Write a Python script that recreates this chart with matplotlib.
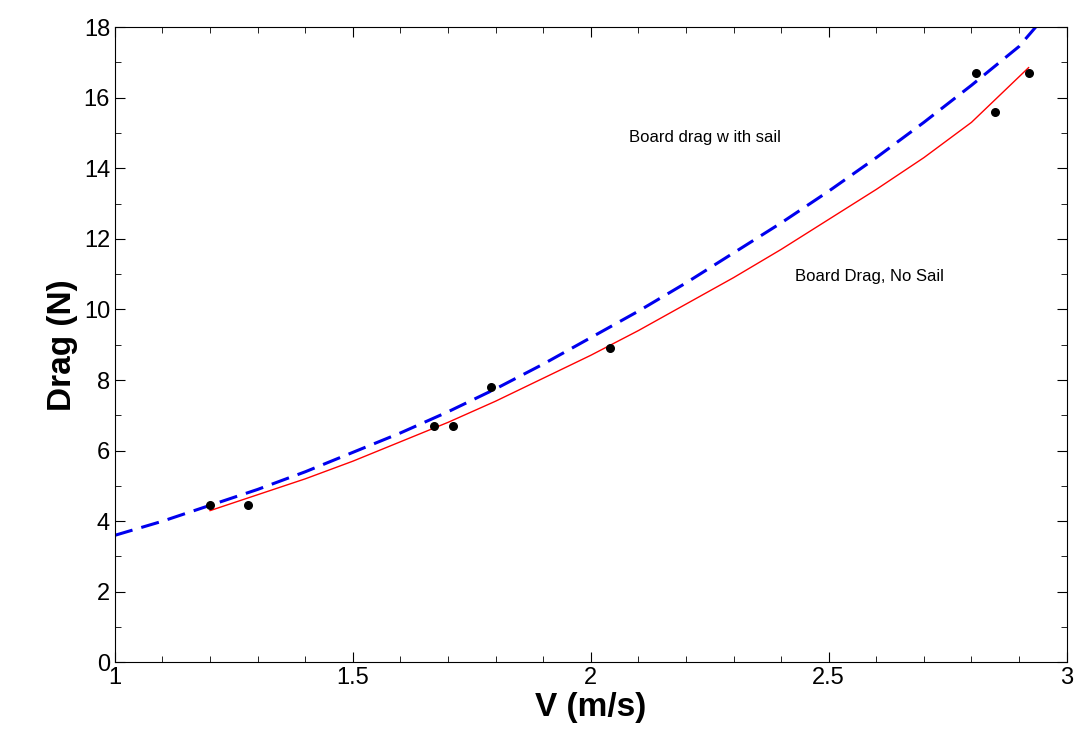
import numpy as np
import matplotlib.pyplot as plt
from matplotlib.ticker import MultipleLocator

plt.rcParams['font.family'] = ['Liberation Sans', 'DejaVu Sans']

# measured points
v_pts = [1.20, 1.28, 1.67, 1.71, 1.79, 2.04, 2.81, 2.85, 2.92]
d_pts = [4.45, 4.45, 6.7, 6.7, 7.8, 8.9, 16.7, 15.6, 16.7]

# fit curves
v_sail = [1.0, 1.1, 1.2, 1.3, 1.4, 1.5, 1.6, 1.7, 1.8, 1.9, 2.0, 2.1,
          2.2, 2.3, 2.4, 2.5, 2.6, 2.7, 2.8, 2.9, 2.935]
d_sail = [3.6, 4.0, 4.45, 4.9, 5.4, 5.95, 6.5, 7.1, 7.75, 8.45, 9.2, 9.95,
          10.75, 11.6, 12.45, 13.35, 14.3, 15.3, 16.35, 17.45, 18.0]
v_nosail = [1.2, 1.3, 1.4, 1.5, 1.6, 1.7, 1.8, 1.9, 2.0, 2.1, 2.2, 2.3,
            2.4, 2.5, 2.6, 2.7, 2.8, 2.92]
d_nosail = [4.3, 4.75, 5.2, 5.7, 6.25, 6.8, 7.4, 8.05, 8.7, 9.4, 10.15, 10.9,
            11.7, 12.55, 13.4, 14.3, 15.3, 16.85]

fig = plt.figure(figsize=(10.84, 7.51), dpi=100)
ax = fig.add_axes([0.106, 0.118, 0.878, 0.846])

ax.plot(v_sail, d_sail, '--', color='#0000ee', lw=2.2, dashes=(6, 3))
ax.plot(v_nosail, d_nosail, '-', color='red', lw=1)
ax.scatter(v_pts, d_pts, c='black', s=30, zorder=3)

ax.text(2.08, 14.75, 'Board drag w ith sail', fontsize=12)
ax.text(2.43, 10.8, 'Board Drag, No Sail', fontsize=12)

ax.set_xlim(1, 3)
ax.set_ylim(0, 18)
ax.xaxis.set_major_locator(MultipleLocator(0.5))
ax.xaxis.set_minor_locator(MultipleLocator(0.1))
ax.yaxis.set_major_locator(MultipleLocator(2))
ax.yaxis.set_minor_locator(MultipleLocator(1))
ax.tick_params(which='both', direction='in', top=True, right=True, labelsize=17)
ax.tick_params(which='major', length=7)
ax.tick_params(which='minor', length=4)
ax.set_xticks([1, 1.5, 2, 2.5, 3])
ax.set_xticklabels(['1', '1.5', '2', '2.5', '3'])
ax.set_xlabel('V (m/s)', fontsize=24, fontweight='bold', labelpad=2)
ax.set_ylabel('Drag (N)', fontsize=24, fontweight='bold')

plt.savefig('out.png')
